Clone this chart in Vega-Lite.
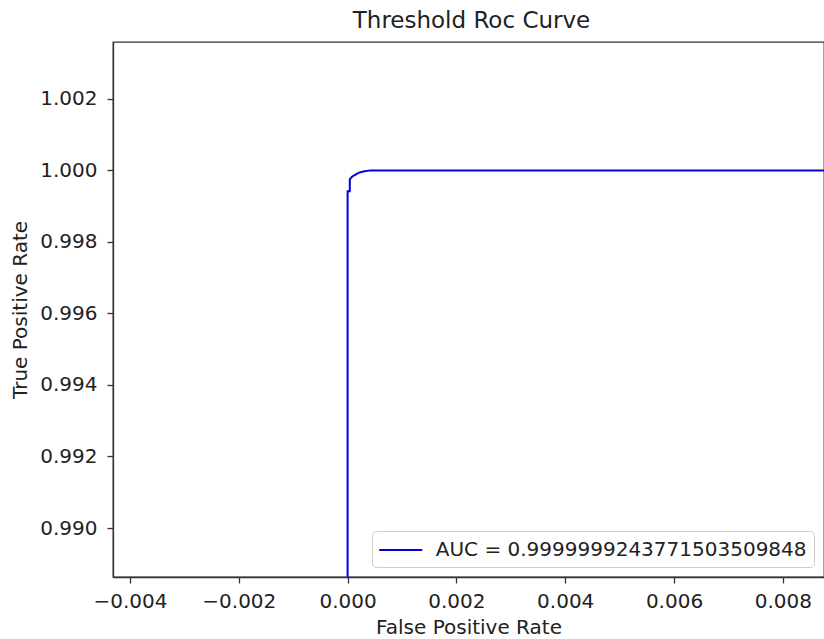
{
  "$schema": "https://vega.github.io/schema/vega-lite/v6.json",
  "autosize": "none",
  "width": 711,
  "height": 535,
  "padding": {"left": 113, "top": 42, "right": 0, "bottom": 62},
  "background": "white",
  "config": {
    "font": "DejaVu Sans",
    "view": {"stroke": "#333333", "strokeWidth": 1.3},
    "axis": {"grid": false, "domainColor": "#333333", "tickColor": "#333333", "labelColor": "#222222", "titleColor": "#222222", "labelFontSize": 20, "titleFontSize": 20, "titleFontWeight": "normal", "tickSize": 6, "labelPadding": 8, "domainWidth": 1.3, "tickWidth": 1.3}
  },
  "title": {"text": "Threshold Roc Curve", "fontSize": 23, "fontWeight": "normal", "color": "#222222", "anchor": "middle", "dx": 3, "offset": 9},
  "data": {
    "values": [
      {"i": 0, "fpr": 0.0, "tpr": 0.0, "series": "AUC = 0.9999999243771503509848"},
      {"i": 1, "fpr": 0.0, "tpr": 0.99942, "series": "AUC = 0.9999999243771503509848"},
      {"i": 2, "fpr": 0.00004, "tpr": 0.99942, "series": "AUC = 0.9999999243771503509848"},
      {"i": 3, "fpr": 0.00004, "tpr": 0.99975, "series": "AUC = 0.9999999243771503509848"},
      {"i": 4, "fpr": 0.00008, "tpr": 0.99982, "series": "AUC = 0.9999999243771503509848"},
      {"i": 5, "fpr": 0.00013, "tpr": 0.99987, "series": "AUC = 0.9999999243771503509848"},
      {"i": 6, "fpr": 0.0002, "tpr": 0.99993, "series": "AUC = 0.9999999243771503509848"},
      {"i": 7, "fpr": 0.00029, "tpr": 0.99997, "series": "AUC = 0.9999999243771503509848"},
      {"i": 8, "fpr": 0.00042, "tpr": 1.0, "series": "AUC = 0.9999999243771503509848"},
      {"i": 9, "fpr": 1.0, "tpr": 1.0, "series": "AUC = 0.9999999243771503509848"}
    ]
  },
  "mark": {"type": "line", "clip": true, "strokeWidth": 2},
  "encoding": {
    "x": {"field": "fpr", "type": "quantitative", "title": "False Positive Rate",
      "scale": {"domain": [-0.0043125, 0.008757], "nice": false, "zero": false},
      "axis": {"values": [-0.004, -0.002, 0, 0.002, 0.004, 0.006, 0.008], "format": ".3f", "titlePadding": 6}},
    "y": {"field": "tpr", "type": "quantitative", "title": "True Positive Rate",
      "scale": {"domain": [0.98863, 1.00359], "nice": false, "zero": false},
      "axis": {"values": [0.990, 0.992, 0.994, 0.996, 0.998, 1.000, 1.002], "format": ".3f", "titlePadding": 9, "labelPadding": 10}},
    "order": {"field": "i", "type": "quantitative"},
    "color": {"field": "series", "type": "nominal", "scale": {"range": ["#0000e0"]},
      "legend": {"title": null, "orient": "bottom-right", "offset": 10, "symbolType": "M-2,0H2", "symbolSize": 462, "symbolStrokeWidth": 2, "symbolOffset": 9.75, "labelFontSize": 20, "labelColor": "#222222", "labelOffset": 23, "padding": 7, "fillColor": "rgba(255,255,255,0.8)", "strokeColor": "#cccccc", "cornerRadius": 4, "labelLimit": 600}}
  }
}
